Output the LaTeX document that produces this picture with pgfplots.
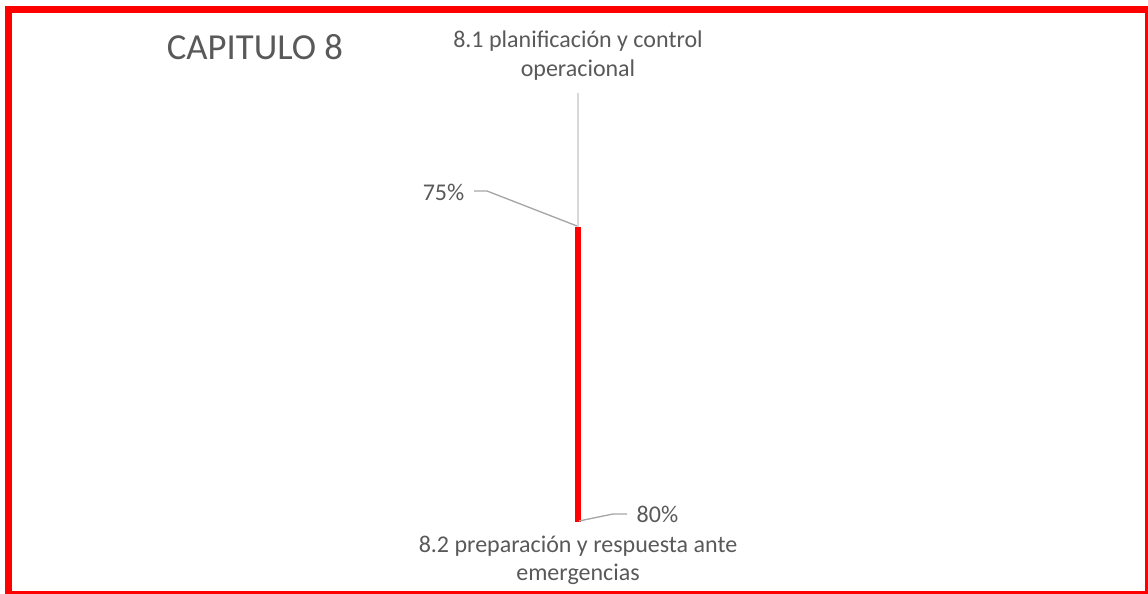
\documentclass[border=0pt]{standalone}
\usepackage{pgfplots}
\pgfplotsset{compat=1.18}
\usepackage{pgfplotstable}
\usepackage{fontspec}
\setmainfont{Carlito}
\definecolor{txt}{HTML}{595959}
\definecolor{axgray}{HTML}{D9D9D9}
\definecolor{leader}{HTML}{A6A6A6}
\definecolor{frame}{HTML}{FF0000}
% radar values (min 72, max 80); dir +1 = top spoke, -1 = bottom spoke
\pgfplotstableread{
cat dir value
1 1 75
2 -1 80
}\radardata
\newcommand{\px}[2]{(axis cs:#1,{(307.5-#2)/26.8125})}
\begin{document}
\begin{tikzpicture}
\begin{axis}[
  scale only axis,
  width=861pt, height=444.75pt,
  xmin=0, xmax=1148,
  ymin=-10.648, ymax=11.469,
  axis lines=none, ticks=none,
  clip=false,
]
% red frame
\draw[frame, line width=5.25pt, overlay] \px{8}{9.5} rectangle \px{1148}{594};
% spoke
\addplot[axgray, line width=1.3pt, forget plot] coordinates {(578,8) (578,-8)};
% series
\addplot[frame, line width=4.5pt, line cap=butt] table[x expr=578, y expr=\thisrow{dir}*(\thisrow{value}-72)] {\radardata};
% title
\node[txt, font=\fontsize{27.5}{33}\selectfont, anchor=base] at \px{255}{59} {CAPITULO 8};
% category labels
\node[txt, font=\fontsize{18}{20}\selectfont, anchor=base] at \px{578}{47} {8.1 planificación y control};
\node[txt, font=\fontsize{18}{20}\selectfont, anchor=base] at \px{578}{76} {operacional};
\node[txt, font=\fontsize{18}{20}\selectfont, anchor=base] at \px{578}{552} {8.2 preparación y respuesta ante};
\node[txt, font=\fontsize{18}{20}\selectfont, anchor=base] at \px{578}{580} {emergencias};
% data labels with leaders
\draw[leader, line width=1pt] \px{474}{191} -- \px{487}{191} -- \px{577}{226};
\node[txt, font=\fontsize{18}{20}\selectfont, anchor=base east] at \px{469}{200} {75\%};
\draw[leader, line width=1pt] \px{579}{521} -- \px{613}{514} -- \px{627}{514};
\node[txt, font=\fontsize{18}{20}\selectfont, anchor=base west] at \px{632}{522} {80\%};
\end{axis}
\pgfresetboundingbox
\path[use as bounding box] (current axis.south west) rectangle (current axis.north east);
\end{tikzpicture}
\end{document}
